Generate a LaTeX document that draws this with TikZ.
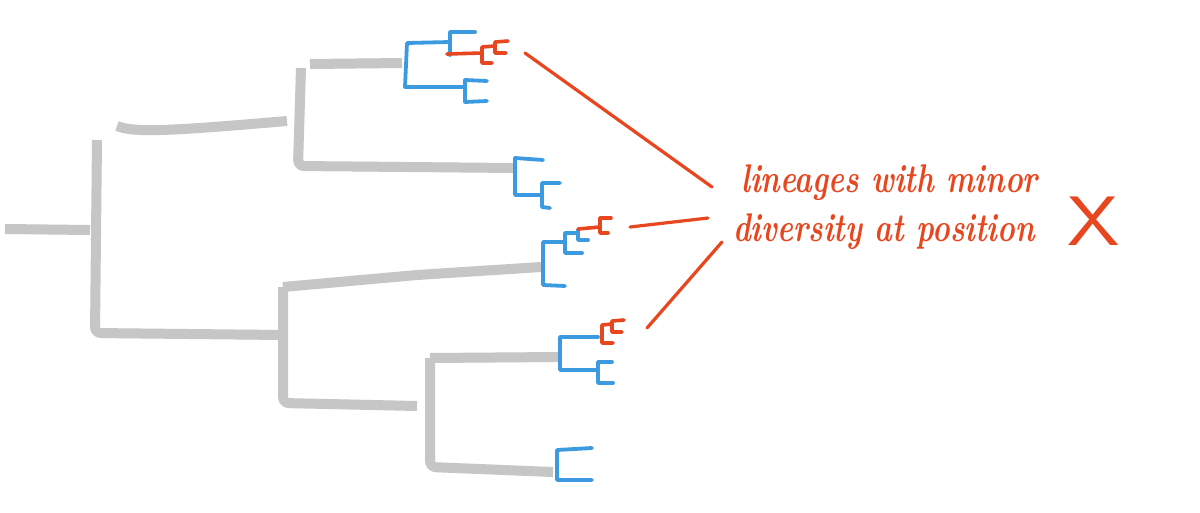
\documentclass[tikz,border=0pt]{standalone}
\usepackage{fontspec}
\begin{document}
\begin{tikzpicture}[x=1pt,y=-1pt,
  greyb/.style={draw=treegrey,line width=10pt,line cap=butt,line join=round,rounded corners=6pt},
  blueb/.style={draw=cladeblue,line width=3.8pt,line cap=round,line join=round},
  redb/.style={draw=hilred,line width=3.6pt,line cap=round,line join=round},
  redline/.style={draw=hilred,line width=3.2pt,line cap=round},
  hand/.style={text=hilred,font=\fontsize{40}{42}\selectfont\bfseries\itshape,inner sep=0pt,anchor=base west,xscale=0.75}]
\definecolor{treegrey}{HTML}{C6C6C6}
\definecolor{cladeblue}{HTML}{3C9BE0}
\definecolor{hilred}{HTML}{E8461E}
\useasboundingbox (0,0) rectangle (1200,512);
\fill[white] (0,0) rectangle (1200,512);
% grey backbone
\draw[greyb] (5,229) -- (90,230);
\draw[greyb] (97,140) -- (95,333) -- (283,335);
\draw[greyb] (117,126) .. controls (135,133) and (170,131) .. (287,121);
\draw[greyb] (301,68) -- (298,166) -- (515,168);
\draw[greyb] (310,64) -- (402,63);
\draw[greyb] (283,287) -- (283,403) -- (417,406);
\draw[greyb] (283,287) -- (417,275) -- (541,267);
\draw[greyb] (430,358) -- (430,467) -- (553,472);
\draw[greyb] (430,358) -- (558,357);
% clade 1
\draw[blueb] (450,42) -- (407,43) -- (405,87) -- (465,87);
\draw[blueb] (475,32) -- (450,32) -- (450,55);
\draw[blueb] (487,81) -- (465,80) -- (465,102) -- (487,101);
\draw[redb] (447,54) -- (482,53);
\draw[redb] (495,46) -- (482,47) -- (482,63) -- (492,63);
\draw[redb] (508,41) -- (495,42) -- (495,53) -- (506,53);
% clade 2
\draw[blueb] (543,160) -- (515,158) -- (515,195) -- (542,195);
\draw[blueb] (560,183) -- (542,183) -- (542,207) -- (550,208);
% clade 3
\draw[blueb] (565,242) -- (543,242) -- (543,285) -- (565,286);
\draw[blueb] (578,233) -- (565,233) -- (565,253) -- (582,253);
\draw[blueb] (588,240) -- (578,240) -- (578,230);
\draw[redb] (578,229) -- (600,227);
\draw[redb] (611,218) -- (600,218) -- (600,233) -- (608,233);
% clade 4
\draw[blueb] (598,337) -- (560,337) -- (560,370) -- (598,370);
\draw[blueb] (612,362) -- (598,362) -- (598,383) -- (613,383);
\draw[redb] (612,324) -- (602,325) -- (602,343) -- (613,343);
\draw[redb] (624,320) -- (612,321) -- (612,332) -- (622,332);
% clade 5
\draw[blueb] (592,448) -- (557,450) -- (557,480) -- (592,480);
% labels
\node[hand] (lbl1) at (741,192) {lineages with minor};
\node[hand] (lbl2) at (733,241) {diversity at position};
\node[text=hilred,font=\fontsize{70}{70}\selectfont\sffamily,inner sep=0pt,xscale=1.2] (bigx) at (1094,221) {X};
% pointers
\coordinate (p1s) at (525,53);
\coordinate (p1e) at (712,187);
\coordinate (p2s) at (630,227);
\coordinate (p2e) at (708,218);
\coordinate (p3s) at (647,328);
\coordinate (p3e) at (722,242);
\draw[redline] (p1s) -- (p1e);
\draw[redline] (p2s) -- (p2e);
\draw[redline] (p3s) -- (p3e);
\end{tikzpicture}
\end{document}
